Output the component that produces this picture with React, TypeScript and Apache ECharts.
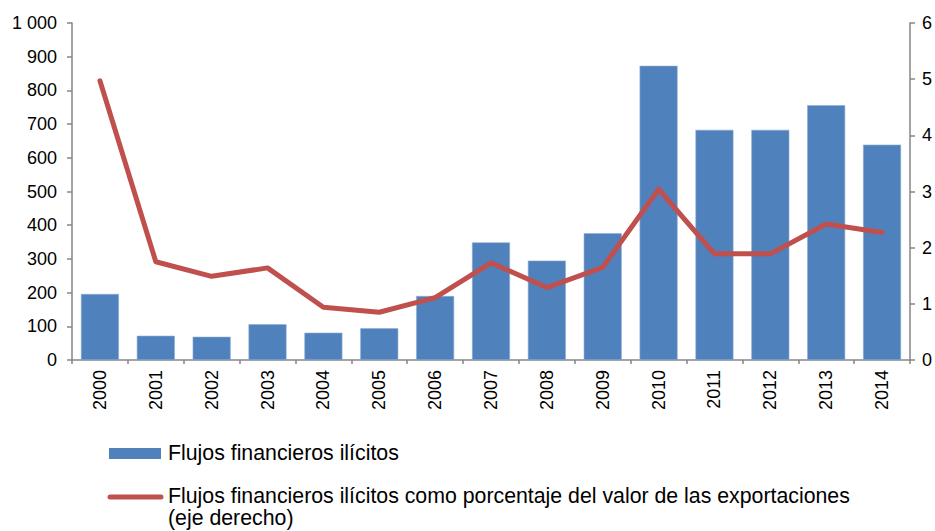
import React, { useEffect, useRef } from "react";
import * as echarts from "echarts";

const years = ["2000","2001","2002","2003","2004","2005","2006","2007","2008","2009","2010","2011","2012","2013","2014"];
const flujos = [196, 72, 69, 106, 81, 94, 190, 349, 295, 376, 873, 683, 683, 756, 639];
const porcentaje = [4.97, 1.75, 1.49, 1.64, 0.94, 0.85, 1.11, 1.73, 1.29, 1.65, 3.04, 1.89, 1.89, 2.42, 2.27];
const legendBar = "Flujos financieros ilícitos";
const legendLine1 = "Flujos financieros ilícitos como porcentaje del valor de las exportaciones";
const legendLine2 = "(eje derecho)";

const BLUE = "#4F81BD";
const RED = "#C0504D";
const AXIS = "#868686";
const FONT = "'Liberation Sans', Arial, sans-serif";

export default function App() {
  const ref = useRef<HTMLDivElement>(null);
  useEffect(() => {
    const chart = echarts.init(ref.current!, null, { renderer: "svg" });
    const axisLine = { show: true, lineStyle: { color: AXIS, width: 1.5 } };
    const axisTick = { show: true, length: 5, lineStyle: { color: AXIS, width: 1.5 } };
    const textStyle = { fontFamily: FONT, fontSize: 18, color: "#000" };
    const legendText = { fontFamily: FONT, fontSize: 21.3, fill: "#000", verticalAlign: "middle" };
    chart.setOption({
      animation: false,
      grid: { left: 72, right: 25, top: 23, bottom: 171, containLabel: false },
      xAxis: {
        type: "category",
        data: years,
        axisLine,
        axisTick: { ...axisTick, length: 4 },
        axisLabel: { ...textStyle, rotate: 90, margin: 10 },
      },
      yAxis: [
        {
          type: "value",
          min: 0,
          max: 1000,
          interval: 100,
          axisLine,
          axisTick,
          splitLine: { show: false },
          axisLabel: {
            ...textStyle,
            margin: 15,
            formatter: (v: number) => (v >= 1000 ? "1 000" : String(v)),
          },
        },
        {
          type: "value",
          min: 0,
          max: 6,
          interval: 1,
          position: "right",
          axisLine,
          axisTick,
          splitLine: { show: false },
          axisLabel: { ...textStyle, margin: 12 },
        },
      ],
      series: [
        {
          name: legendBar,
          type: "bar",
          data: flujos,
          barCategoryGap: "32%",
          itemStyle: { color: BLUE, borderColor: "#8EADD4", borderWidth: 0.6 },
        },
        {
          name: legendLine1,
          type: "line",
          yAxisIndex: 1,
          data: porcentaje,
          symbol: "none",
          lineStyle: { color: RED, width: 5, cap: "round", join: "round" },
        },
      ],
      graphic: [
        { type: "rect", shape: { x: 109, y: 448, width: 52, height: 11 }, style: { fill: BLUE } },
        { type: "text", x: 168, y: 453, style: { text: legendBar, ...legendText } },
        {
          type: "line",
          shape: { x1: 110, y1: 497, x2: 161, y2: 497 },
          style: { stroke: RED, lineWidth: 5, lineCap: "round" },
        },
        { type: "text", x: 168, y: 496, style: { text: legendLine1, ...legendText } },
        { type: "text", x: 168, y: 518, style: { text: legendLine2, ...legendText } },
      ],
    });
    return () => chart.dispose();
  }, []);
  return <div ref={ref} style={{ width: 935, height: 531, position: "absolute", left: 0, top: 0 }} />;
}
